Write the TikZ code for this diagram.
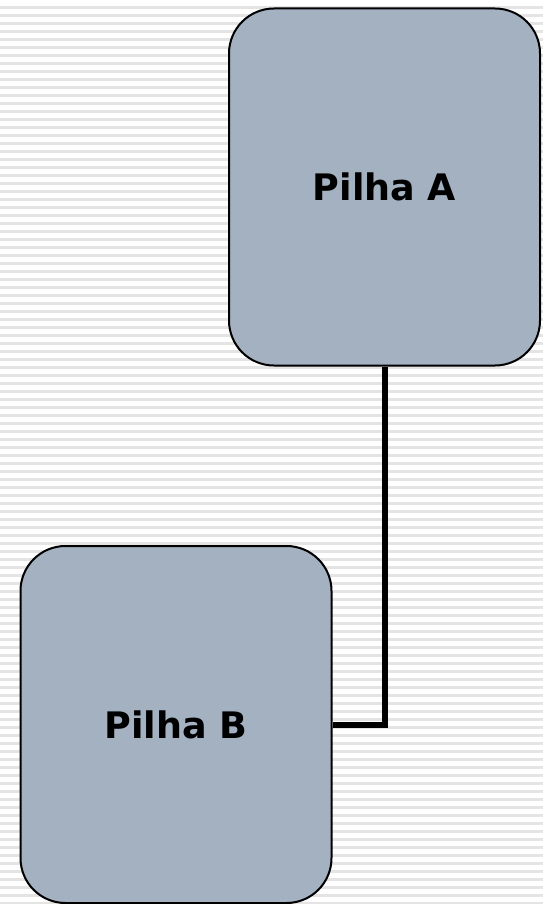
\documentclass[tikz,border=0pt]{standalone}
\usepackage{fontspec}
\setmainfont{DejaVu Sans}
\usetikzlibrary{backgrounds}
\definecolor{boxfill}{HTML}{A3B1C0}
\definecolor{stripe}{HTML}{E4E4E4}
\tikzset{
  pilha/.style={draw=black, line width=2pt, fill=boxfill, rounded corners=45pt,
    minimum width=311pt, minimum height=357pt, inner sep=0pt,
    font=\fontsize{36.5}{40}\selectfont\bfseries},
  conn/.style={line width=6pt, black}
}
\begin{document}
\begin{tikzpicture}[x=1pt,y=-1pt]
\useasboundingbox (0,0) rectangle (543,904);
\node[pilha] (A) at (384.5,187) {Pilha A};
\node[pilha] (B) at (176,724.5) {Pilha B};
\begin{scope}[on background layer]
\fill[white] (0,0) rectangle (543,904);
\foreach \k in {0,...,112} {
  \fill[stripe] (0,{6+8*\k}) rectangle (543,{8.7+8*\k});
}
\draw[conn] (A.south) |- (B.east);
\end{scope}
\end{tikzpicture}
\end{document}
